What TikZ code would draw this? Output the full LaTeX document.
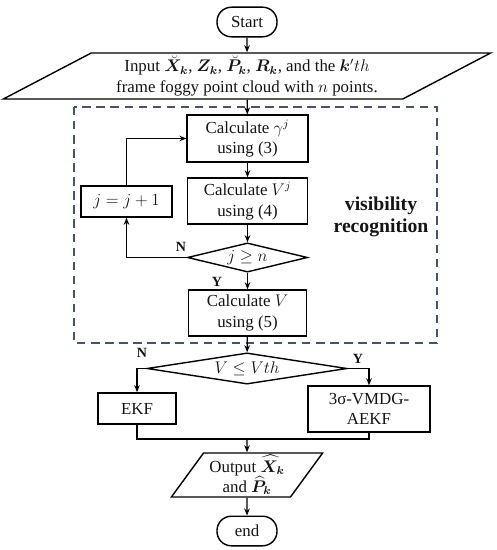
\documentclass[tikz,border=0pt]{standalone}
\usepackage{fontspec}
\usepackage{amsmath}
\usepackage{bm}
\setmainfont{Liberation Serif}
\usetikzlibrary{shapes.geometric, arrows.meta, positioning, calc}
\definecolor{slategray}{RGB}{68, 84, 106}
\definecolor{darktext}{RGB}{20, 20, 20}

\tikzset{
    procbox/.style={draw, line width=1pt, align=center, inner sep=1pt},
    decbox/.style={draw, diamond, line width=1pt, inner sep=0pt, aspect=4},
    iobox/.style={draw, trapezium, trapezium stretches body, line width=1pt, align=center, inner sep=1pt},
    termbox/.style={draw, rounded corners=0.36cm, line width=1pt, minimum width=1.5cm, minimum height=0.74cm},
    flowline/.style={line width=0.9pt, -{Stealth[length=5pt, width=4pt]}},
    joinline/.style={line width=0.9pt},
    yesno/.style={font=\bfseries}
}

\begin{document}
\begin{tikzpicture}[x=0.025cm, y=-0.025cm, font=\fontsize{12}{14.5}\selectfont, text=darktext]
    \useasboundingbox (0,0) rectangle (497,550);

    % frame of the recognition loop
    \draw[slategray, line width=1.1pt, dash pattern=on 6pt off 4pt] (74,107) rectangle (437,343);
    \node[font=\fontsize{14}{15.5}\selectfont\bfseries, align=center] (vislabel) at (381,217) {visibility\\recognition};

    % main column
    \node[termbox] (start) at (247,22) {Start};
    \node[iobox, trapezium left angle=26, trapezium right angle=154, minimum height=1.15cm, minimum width=12.18cm] (input) at (247,76)
        {Input $\breve{\bm{X}}_{\bm{k}}$, $\bm{Z}_{\bm{k}}$, $\breve{\bm{P}}_{\bm{k}}$, $\bm{R}_{\bm{k}}$, and the $\bm{k}'th$\\frame foggy point cloud with $n$ points.};
    \node[procbox, minimum width=3.02cm, minimum height=1.17cm] (calcg) at (247.5,138.5) {Calculate $\gamma^{j}$\\using (3)};
    \node[procbox, minimum width=3.0cm, minimum height=1.15cm] (calcv) at (247.5,201) {Calculate $V^{j}$\\using (4)};
    \node[decbox, minimum width=3.0cm, minimum height=0.73cm] (chkj) at (247.5,257.5) {$j \geq n$};
    \node[procbox, minimum width=2.28cm, minimum height=0.78cm] (incj) at (126.5,201.5) {$j = j + 1$};
    \node[procbox, minimum width=2.95cm, minimum height=1.15cm] (calcvt) at (247.5,313) {Calculate $V$\\using (5)};

    % threshold decision
    \node[decbox, aspect=6.5, minimum width=5.0cm, minimum height=0.78cm] (chkv) at (247,368.5) {$V \leq Vth$};
    \node[procbox, minimum width=1.95cm, minimum height=0.78cm] (ekf) at (137,408.5) {EKF};
    \node[procbox, minimum width=3.05cm, minimum height=1.15cm] (aekf) at (369,409) {3σ-VMDG-\\AEKF};
    \coordinate (merge) at (247,439);
    \node[iobox, trapezium left angle=53, trapezium right angle=127, minimum height=1.1cm, minimum width=3.78cm] (output) at (247,475)
        {Output $\widehat{\bm{X}}_{\bm{k}}$\\and $\widehat{\bm{P}}_{\bm{k}}$};
    \node[termbox] (finish) at (247,531) {end};

    % connectors
    \draw[flowline] (start) -- (input);
    \draw[flowline] (input) -- (calcg);
    \draw[flowline] (calcg) -- (calcv);
    \draw[flowline] (calcv) -- (chkj);
    \draw[flowline] (chkj) -- (calcvt);
    \draw[flowline] (chkj.west) -| (incj.south);
    \draw[flowline] (incj.north) |- (calcg.west);
    \draw[flowline] (calcvt) -- (chkv);
    \draw[flowline] (chkv.west) -| (ekf.north);
    \draw[flowline] (chkv.east) -| (aekf.north);
    \draw[joinline] (ekf.south) |- (merge) -| (aekf.south);
    \draw[flowline] (merge) -- (output);
    \draw[flowline] (output) -- (finish);

    % branch labels
    \node[yesno] (nj) at (181,247) {N};
    \node[yesno] (yj) at (217,282) {Y};
    \node[yesno] (nv) at (142,353) {N};
    \node[yesno] (yv) at (358,359) {Y};
\end{tikzpicture}
\end{document}
